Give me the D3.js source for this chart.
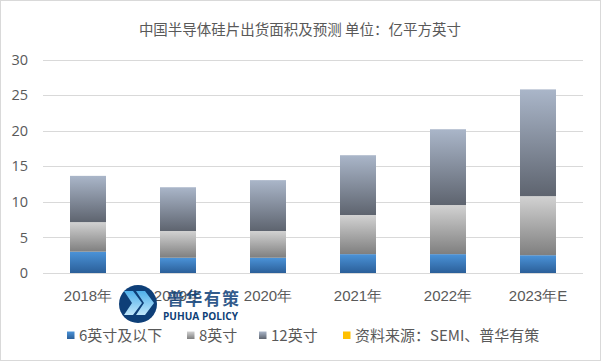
<!DOCTYPE html>
<html><head><meta charset="utf-8">
<script src="https://cdn.jsdelivr.net/npm/d3@7"></script>
<style>
html,body{margin:0;padding:0;background:#fff;}
svg{display:block;font-family:"Noto Sans CJK SC","Noto Sans",sans-serif;}
</style></head><body>
<svg id="c" width="601" height="361"></svg>
<script>
const categories = ["2018年","2019年","2020年","2021年","2022年","2023年E"];
const seriesNames = ["6英寸及以下","8英寸","12英寸"];
const s6 = [3.0, 2.15, 2.15, 2.65, 2.65, 2.5];
const s8 = [4.15, 3.75, 3.75, 5.5, 6.9, 8.3];
const s12 = [6.5, 6.15, 7.15, 8.4, 10.65, 15.0];
const yTicks = [0,5,10,15,20,25,30];
const sourceText = "资料来源：SEMI、普华有策";
const title = "中国半导体硅片出货面积及预测 单位：亿平方英寸";

const svg = d3.select("#c");
svg.append("rect").attr("x",0.5).attr("y",0.5).attr("width",600).attr("height",360)
  .attr("fill","#fff").attr("stroke","#d9d9d9");

const defs = svg.append("defs");
const grads = [
  ["g6", "#4b93d8", "#2b5f99"],
  ["g8", "#d2d2d2", "#7f7f7f"],
  ["g12","#aab6c9", "#5e646f"],
  ["gchev","#4fb0ea", "#bfe6fb"]
];
grads.forEach(([id,a,b])=>{
  const g = defs.append("linearGradient").attr("id",id).attr("x1",0).attr("y1",0).attr("x2",0).attr("y2",1);
  g.append("stop").attr("offset","0%").attr("stop-color",a);
  g.append("stop").attr("offset","100%").attr("stop-color",b);
});

const x = d3.scaleBand().domain(categories).range([43,583]).paddingInner(0.6).paddingOuter(0.3);
const y = d3.scaleLinear().domain([0,30]).range([273,59.5]);

svg.append("text").attr("x",300).attr("y",35).attr("text-anchor","middle")
  .attr("font-size",14.5).attr("fill","#595959").text(title);

// gridlines
svg.append("g").selectAll("line").data(yTicks).join("line")
  .attr("x1",43).attr("x2",583).attr("y1",d=>Math.round(y(d))+0.5).attr("y2",d=>Math.round(y(d))+0.5)
  .attr("stroke","#d9d9d9").attr("stroke-width",1);

// y axis labels
const yAxis = d3.axisLeft(y).tickValues(yTicks).tickSize(0).tickPadding(0);
const ya = svg.append("g").attr("transform","translate(28,0)").call(yAxis);
ya.select(".domain").remove();
ya.selectAll("text").attr("font-size",14.5).attr("fill","#595959").attr("font-family","'Open Sans','Noto Sans',sans-serif");

// stacked bars
const rows = categories.map((c,i)=>({cat:c, s6:s6[i], s8:s8[i], s12:s12[i]}));
const stack = d3.stack().keys(["s6","s8","s12"])(rows);
const ids = ["g6","g8","g12"];
svg.append("g").selectAll("g").data(stack).join("g")
  .attr("fill",(d,i)=>`url(#${ids[i]})`)
  .selectAll("rect").data(d=>d).join("rect")
  .attr("x",d=>x(d.data.cat)).attr("width",x.bandwidth())
  .attr("y",d=>y(d[1])).attr("height",d=>y(d[0])-y(d[1]));

// x axis labels
const xAxis = d3.axisBottom(x).tickSize(0).tickPadding(0);
const xa = svg.append("g").attr("transform","translate(0,287)").call(xAxis);
xa.select(".domain").remove();
xa.selectAll("text").attr("font-size",15).attr("fill","#595959").attr("dy","0.9em");

// watermark logo
const wm = svg.append("g");
wm.append("circle").attr("cx",138).attr("cy",304).attr("r",19).attr("fill","#0e3f78");
[0,12].forEach(dx=>{
  wm.append("path").attr("d",`M${124+dx},291 L${133+dx},291 L${142+dx},303 L${133+dx},315 L${124+dx},315 L${132+dx},303 Z`)
    .attr("fill","url(#gchev)");
});
wm.append("text").attr("x",167).attr("y",305).attr("font-size",17).attr("font-weight",700)
  .attr("fill","#0e3f78").attr("opacity",0.85).attr("textLength",72).text("普华有策");
wm.append("text").attr("x",163).attr("y",320).attr("font-size",10).attr("font-weight",700)
  .attr("fill","#0e3f78").attr("font-family","'Open Sans',sans-serif")
  .attr("textLength",75).attr("lengthAdjust","spacingAndGlyphs").text("PUHUA POLICY");

// legend
const legendItems = [
  {t:seriesNames[0], f:"url(#g6)", x:67},
  {t:seriesNames[1], f:"url(#g8)", x:187},
  {t:seriesNames[2], f:"url(#g12)", x:259},
  {t:sourceText, f:"#ffc000", x:343}
];
const lg = svg.append("g").selectAll("g").data(legendItems).join("g")
  .attr("transform",d=>`translate(${d.x},0)`);
lg.append("rect").attr("x",0).attr("y",331.5).attr("width",7.5).attr("height",7.5).attr("fill",d=>d.f);
lg.append("text").attr("x",12).attr("y",341).attr("font-size",15).attr("fill","#595959").text(d=>d.t);
</script></body></html>
